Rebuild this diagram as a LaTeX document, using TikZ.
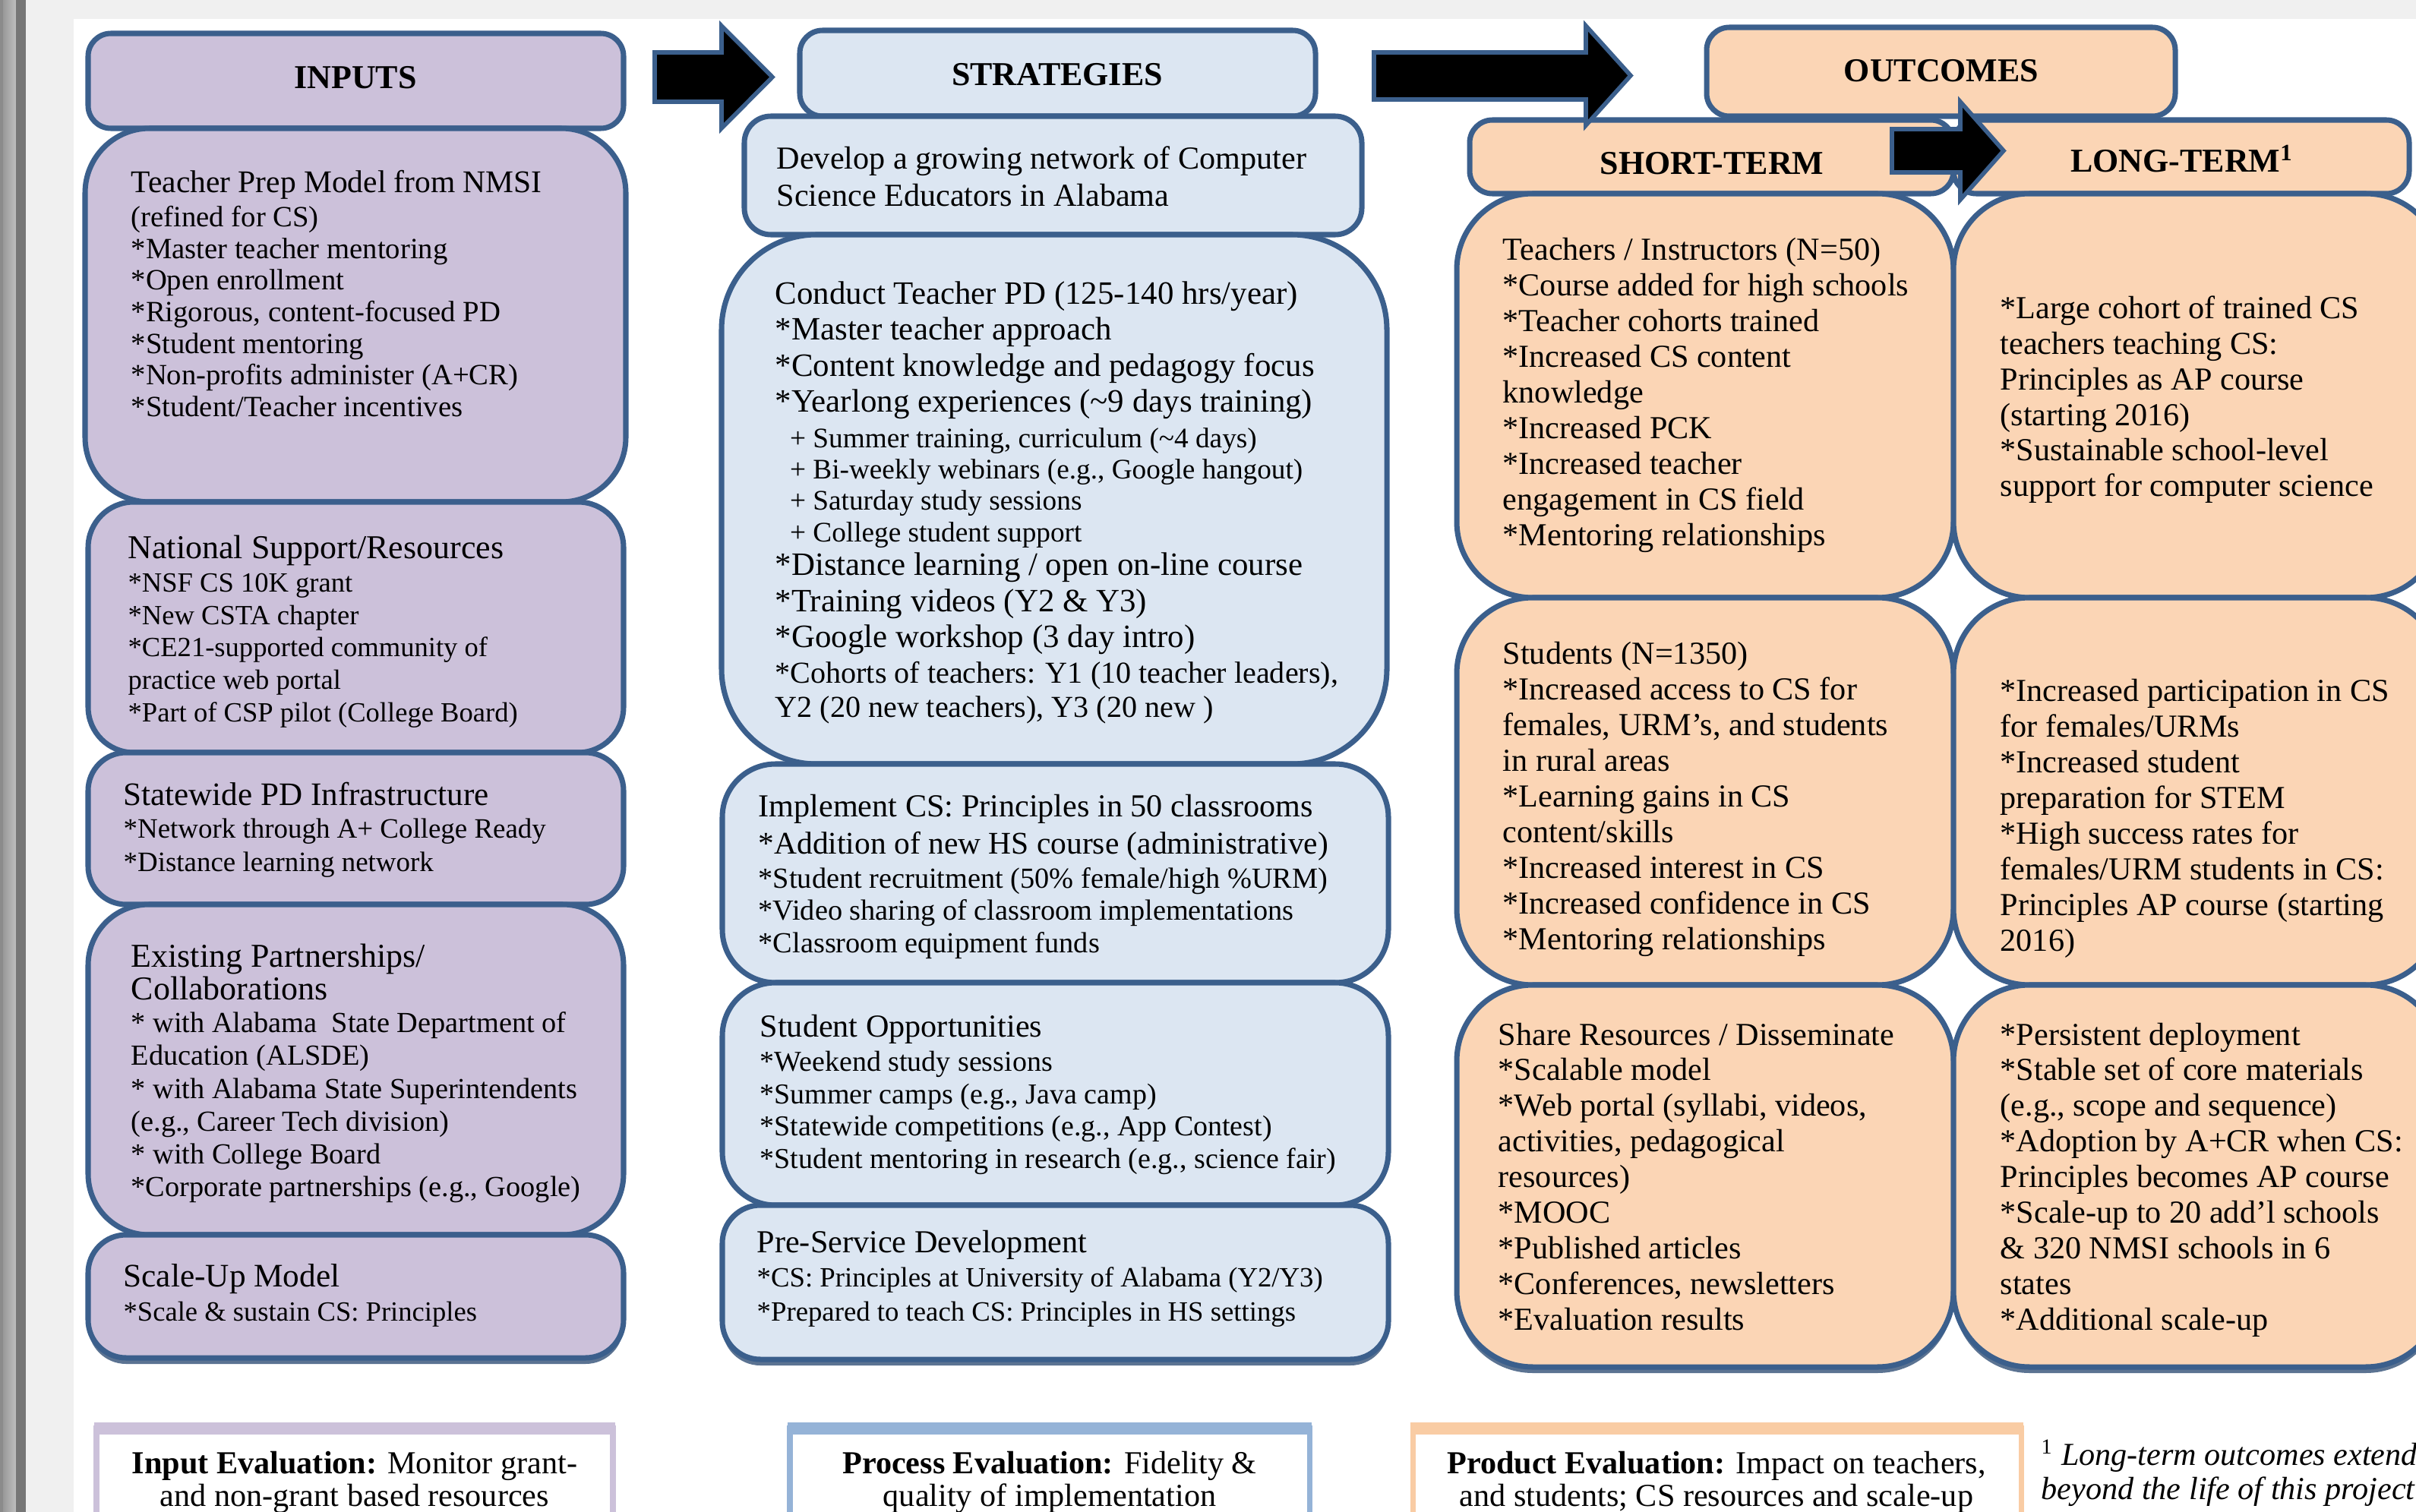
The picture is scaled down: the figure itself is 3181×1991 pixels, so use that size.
\documentclass[tikz,border=0pt]{standalone}
\usepackage{fontspec}
\setmainfont{Liberation Serif}
\usepackage{tikz}
\usetikzlibrary{calc}
\definecolor{frameblue}{HTML}{3B5F8C}
\definecolor{inputfill}{HTML}{CCC1DA}
\definecolor{stratfill}{HTML}{DCE6F2}
\definecolor{outfill}{HTML}{FBD5B5}
\definecolor{inevalline}{HTML}{CCC1DA}
\definecolor{stevalline}{HTML}{95B3D7}
\definecolor{outevalline}{HTML}{F9CCA4}
\definecolor{pagegray}{HTML}{F0F0F0}
\definecolor{bargray}{HTML}{777777}

\begin{document}
\begin{tikzpicture}[x=0.01cm,y=-0.01cm]
      \tikzstyle{every node}=[inner sep=0pt,align=left,anchor=north west]
      \tikzstyle{box}=[draw=frameblue,line width=2pt]
      \tikzstyle{inbox}=[box,fill=inputfill]
      \tikzstyle{stbox}=[box,fill=stratfill]
      \tikzstyle{outbox}=[box,fill=outfill]
      \tikzstyle{boxshadow}=[fill=frameblue!85!black,opacity=0.8]
      \tikzstyle{blockarrow}=[draw=frameblue,fill=black,line width=1.6pt,line join=miter]
      \tikzstyle{header}=[anchor=base,font=\fontsize{12.5}{15}\selectfont\bfseries]
      \tikzstyle{body}=[font=\fontsize{12}{13.33}\selectfont]
      \tikzstyle{evaltext}=[anchor=north,align=center,font=\fontsize{12}{12.5}\selectfont]
      \clip (0,0) rectangle (3181,1991);
      % Page background
      \fill[pagegray] (0,0) rectangle (3181,1991);
      \fill[white] (97,25) rectangle (3181,1991);
      \fill[bargray!85] (0,0) rectangle (4,1991);
      \shade[left color=gray!80,right color=gray!50] (4,0) rectangle (21,1991);
      \fill[bargray] (21,0) rectangle (34,1991);

      % Inputs column
      \filldraw[inbox,rounded corners=0.3cm] (116,44) rectangle (821,169);
      \node[header] (inputs) at (468,117) {INPUTS};
      % First box
      \filldraw[inbox,rounded corners=0.85cm] (112,169) rectangle (824,661);
      \node[font=\fontsize{11}{11.84}\selectfont] (prep) at (172,224)
        {{\fontsize{11.8}{12}\selectfont Teacher Prep Model from NMSI}\\[0.86pt]
         (refined for CS)\\ *Master teacher mentoring\\ *Open enrollment\\
         *Rigorous, content-focused PD\\ *Student mentoring\\
         *Non-profits administer (A+CR)\\ *Student/Teacher incentives};
      % Second box
      \filldraw[inbox,rounded corners=0.6cm] (116,661) rectangle (821,991);
      \node[font=\fontsize{10.4}{12.1}\selectfont] (natl) at (168,704)
        {{\fontsize{12.5}{13}\selectfont National Support/Resources}\\[0.6pt]
         *NSF CS 10K grant\\ *New CSTA chapter\\ *CE21-supported community of\\
         practice web portal\\ *Part of CSP pilot (College Board)};
      % Third box
      \filldraw[inbox,rounded corners=0.5cm] (116,991) rectangle (821,1191);
      \node[font=\fontsize{10.5}{12.4}\selectfont] (state) at (162,1029)
        {{\fontsize{12.25}{13}\selectfont Statewide PD Infrastructure}\\
         *Network through A+ College Ready\\ *Distance learning network};
      % Fourth box
      \filldraw[inbox,rounded corners=0.8cm] (116,1191) rectangle (821,1626);
      \node[font=\fontsize{10.9}{12.3}\selectfont] (partner) at (172,1242)
        {{\fontsize{12.5}{13}\selectfont Existing Partnerships/}\\
         {\fontsize{12.5}{13}\selectfont Collaborations}\\
         * with Alabama\ \ State Department of\\ Education (ALSDE)\\
         * with Alabama State Superintendents\\ (e.g., Career Tech division)\\
         * with College Board\\ *Corporate partnerships (e.g., Google)};
      % Fifth box
      \fill[boxshadow,rounded corners=0.5cm] (116,1634) rectangle (821,1796);
      \filldraw[inbox,rounded corners=0.5cm] (116,1626) rectangle (821,1788);
      \node[font=\fontsize{10.4}{12.7}\selectfont] (scaleup) at (162,1664)
        {{\fontsize{12.3}{13}\selectfont Scale-Up Model}\\
         *Scale \& sustain CS: Principles};

      % Strategies column
      \filldraw[stbox,rounded corners=0.3cm] (1053,40) rectangle (1732,153);
      \node[header] (strat) at (1392,113) {STRATEGIES};
      % First box
      \filldraw[stbox,rounded corners=0.35cm] (980,153) rectangle (1793,309);
      \node[font=\fontsize{12}{13.85}\selectfont] (develop) at (1022,192)
        {Develop a growing network of Computer\\ Science Educators in Alabama};
      % Second box
      \filldraw[stbox,rounded corners=1.25cm] (950,309) rectangle (1826,1006);
      \node[font=\fontsize{12.2}{13.45}\selectfont] (conduct) at (1020,370)
        {Conduct Teacher PD (125-140 hrs/year)\\ *Master teacher approach\\
         *Content knowledge and pedagogy focus\\
         *Yearlong experiences (\textasciitilde9 days training)\\
         {\fontsize{10.6}{11}\selectfont\hspace*{5.5pt}+ Summer training, curriculum (\textasciitilde4 days)}\\[-1.75pt]
         {\fontsize{10.6}{11}\selectfont\hspace*{5.5pt}+ Bi-weekly webinars (e.g., Google hangout)}\\[-1.75pt]
         {\fontsize{10.6}{11}\selectfont\hspace*{5.5pt}+ Saturday study sessions}\\[-1.75pt]
         {\fontsize{10.6}{11}\selectfont\hspace*{5.5pt}+ College student support}\\[-0.7pt]
         *Distance learning / open on-line course\\ *Training videos (Y2 \& Y3)\\
         *Google workshop (3 day intro)\\
         {\fontsize{11.4}{12}\selectfont *Cohorts of teachers: Y1 (10 teacher leaders),}\\[-0.7pt]
         {\fontsize{11.4}{12}\selectfont Y2 (20 new teachers), Y3 (20 new )}};
      % Third box
      \filldraw[stbox,rounded corners=0.7cm] (951,1006) rectangle (1828,1294);
      \node[font=\fontsize{10.9}{12.1}\selectfont] (implement) at (998,1046)
        {{\fontsize{12}{13}\selectfont Implement CS: Principles in 50 classrooms}\\[1.75pt]
         {\fontsize{11.8}{13}\selectfont *Addition of new HS course (administrative)}\\[0.6pt]
         *Student recruitment (50\% female/high \%URM)\\
         *Video sharing of classroom implementations\\ *Classroom equipment funds};
      % Fourth box
      \filldraw[stbox,rounded corners=0.7cm] (951,1294) rectangle (1828,1587);
      \node[font=\fontsize{10.8}{12.1}\selectfont] (studopp) at (1000,1336)
        {{\fontsize{12}{13}\selectfont Student Opportunities}\\[0.6pt]
         *Weekend study sessions\\ *Summer camps (e.g., Java camp)\\
         *Statewide competitions (e.g., App Contest)\\
         *Student mentoring in research (e.g., science fair)};
      % Fifth box
      \fill[boxshadow,rounded corners=0.5cm] (951,1595) rectangle (1828,1798);
      \filldraw[stbox,rounded corners=0.5cm] (951,1587) rectangle (1828,1790);
      \node[font=\fontsize{10.45}{12.7}\selectfont] (preserv) at (996,1620)
        {{\fontsize{12}{13}\selectfont Pre-Service Development}\\
         *CS: Principles at University of Alabama (Y2/Y3)\\
         *Prepared to teach CS: Principles in HS settings};

      % Outcomes column
      \filldraw[outbox,rounded corners=0.3cm] (2247,36) rectangle (2864,153);
      \node[header] (outc) at (2556,108) {OUTCOMES};
      \filldraw[outbox,rounded corners=0.3cm] (1935,158) rectangle (2572,255);
      \node[header] (shortt) at (2254,230) {SHORT-TERM};
      \filldraw[outbox,rounded corners=0.3cm] (2572,158) rectangle (3172,255);
      \node[header] (longt) at (2873,227) {LONG-TERM\textsuperscript{1}};
      % Short-term boxes
      \filldraw[outbox,rounded corners=1cm] (1918,255) rectangle (2572,787);
      \node[body] (teach) at (1978,313)
        {Teachers / Instructors (N=50)\\ *Course added for high schools\\
         *Teacher cohorts trained\\ *Increased CS content\\ knowledge\\
         *Increased PCK\\ *Increased teacher\\ engagement in CS field\\
         *Mentoring relationships};
      \filldraw[outbox,rounded corners=1cm] (1918,787) rectangle (2572,1297);
      \node[body] (stud) at (1978,845)
        {Students (N=1350)\\ *Increased access to CS for\\
         females, URM's, and students\\ in rural areas\\ *Learning gains in CS\\
         content/skills\\ *Increased interest in CS\\ *Increased confidence in CS\\
         *Mentoring relationships};
      \fill[boxshadow,rounded corners=1cm] (1918,1305) rectangle (2572,1808);
      \filldraw[outbox,rounded corners=1cm] (1918,1297) rectangle (2572,1800);
      \node[body] (share) at (1972,1346)
        {Share Resources / Disseminate\\ *Scalable model\\
         *Web portal (syllabi, videos,\\ activities, pedagogical\\ resources)\\
         *MOOC\\ *Published articles\\ *Conferences, newsletters\\ *Evaluation results};
      % Long-term boxes
      \filldraw[outbox,rounded corners=1cm] (2572,255) rectangle (3215,787);
      \node[body] (cohort) at (2633,389)
        {*Large cohort of trained CS\\ teachers teaching CS:\\ Principles as AP course\\
         (starting 2016)\\ *Sustainable school-level\\ support for computer science};
      \filldraw[outbox,rounded corners=1cm] (2572,787) rectangle (3215,1297);
      \node[body] (particip) at (2633,894)
        {*Increased participation in CS\\ for females/URMs\\ *Increased student\\
         preparation for STEM\\ *High success rates for\\ females/URM students in CS:\\
         Principles AP course (starting\\ 2016)};
      \fill[boxshadow,rounded corners=1cm] (2572,1305) rectangle (3215,1808);
      \filldraw[outbox,rounded corners=1cm] (2572,1297) rectangle (3215,1800);
      \node[body] (deploy) at (2633,1346)
        {*Persistent deployment\\ *Stable set of core materials\\
         (e.g., scope and sequence)\\ *Adoption by A+CR when CS:\\
         Principles becomes AP course\\ *Scale-up to 20 add'l schools\\
         \& 320 NMSI schools in 6\\ states\\ *Additional scale-up};

      % Block arrows between the columns
      \filldraw[blockarrow] (862,69) -- (950,69) -- (950,34) -- (1017,101.5)
        -- (950,169) -- (950,134) -- (862,134) -- cycle;
      \filldraw[blockarrow] (1809,69) -- (2088,69) -- (2088,34) -- (2147,99.5)
        -- (2088,165) -- (2088,131) -- (1809,131) -- cycle;
      \filldraw[blockarrow] (2491,170) -- (2581,170) -- (2581,134) -- (2638,198.5)
        -- (2581,263) -- (2581,227) -- (2491,227) -- cycle;

      % Evaluation boxes
      \filldraw[draw=inevalline,fill=white,line width=2pt] (127,1880) rectangle (807,2060);
      \fill[inevalline] (124,1873) rectangle (810,1889);
      \node[evaltext] (inputeval) at (467,1910)
        {\textbf{Input Evaluation:} Monitor grant-\\ and non-grant based resources};
      \filldraw[draw=stevalline,fill=white,line width=2pt] (1040,1880) rectangle (1724,2060);
      \fill[stevalline] (1037,1873) rectangle (1727,1889);
      \node[evaltext] (proceval) at (1382,1910)
        {\textbf{Process Evaluation:} Fidelity \&\\ quality of implementation};
      \filldraw[draw=outevalline,fill=white,line width=2pt] (1860,1880) rectangle (2661,2060);
      \fill[outevalline] (1857,1873) rectangle (2664,1889);
      \node[evaltext] (prodeval) at (2260,1910)
        {\textbf{Product Evaluation:} Impact on teachers,\\ and students; CS resources and scale-up};
      % Footnote
      \node[font=\fontsize{12}{12.8}\selectfont\itshape] (note) at (2687,1895)
        {\textsuperscript{\upshape 1} Long-term outcomes extend\\ beyond the life of this project};
\end{tikzpicture}
\end{document}
